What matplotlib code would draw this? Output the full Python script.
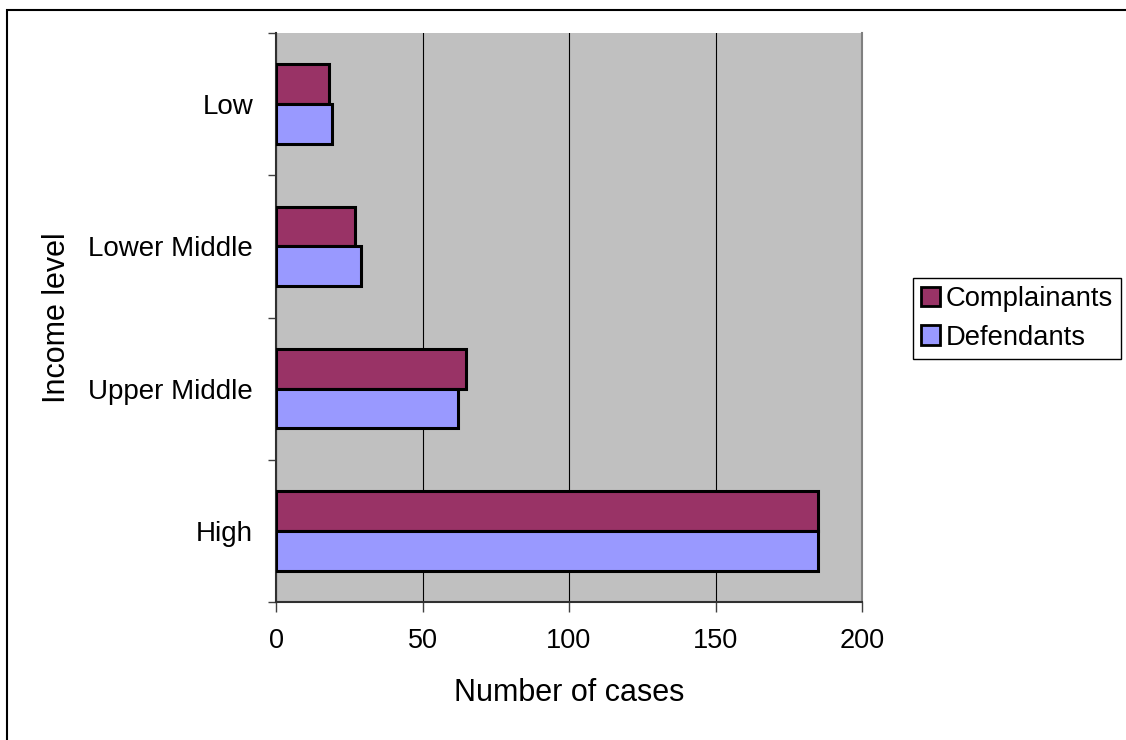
import numpy as np
import matplotlib.pyplot as plt
from matplotlib.patches import Rectangle

plt.rcParams['font.family'] = ['Liberation Sans', 'DejaVu Sans']

# cases per income level, listed bottom to top
levels = ['High', 'Upper Middle', 'Lower Middle', 'Low']
complainants = [185, 65, 27, 18]
defendants = [185, 62, 29, 19]

fig = plt.figure(figsize=(11.26, 7.4), dpi=100)
ax = fig.add_axes([276/1126, 1-602/740, 586/1126, 569/740])
ax.set_facecolor('#C0C0C0')

y = np.arange(len(levels))
h = 0.28
ax.barh(y + h/2, complainants, height=h, color='#993366', edgecolor='black',
        linewidth=2.2, label='Complainants', zorder=3)
ax.barh(y - h/2, defendants, height=h, color='#9999FF', edgecolor='black',
        linewidth=2.2, label='Defendants', zorder=3)

ax.set_xlim(0, 200)
ax.set_ylim(-0.5, len(levels) - 0.5)
ax.set_xticks([0, 50, 100, 150, 200])
ax.xaxis.grid(True, color='black', linewidth=0.8, zorder=1)

# ticks sit between categories, labels at the centres
ax.set_yticks(np.arange(-0.5, len(levels), 1.0))
ax.set_yticklabels([])
ax.set_yticks(y, minor=True)
ax.set_yticklabels(levels, minor=True)
ax.tick_params(axis='y', which='minor', length=0, pad=16.5, labelsize=20)
ax.tick_params(axis='y', which='major', length=6, width=1, color='#404040')
ax.tick_params(axis='x', length=7, width=1, color='#404040', pad=12, labelsize=19.5)

for s in ['left', 'bottom']:
    ax.spines[s].set_color('#303030')
    ax.spines[s].set_linewidth(1.5)
ax.spines['top'].set_visible(False)
ax.spines['right'].set_color('#808080')
ax.spines['right'].set_linewidth(1.5)

# axis titles placed in pixel terms of the figure
ax.set_xlabel('Number of cases', fontsize=22, va='center')
ax.xaxis.set_label_coords(569/1126, 1-693/740, transform=fig.transFigure)
ax.set_ylabel('Income level', fontsize=22, va='center')
ax.yaxis.set_label_coords(57/1126, 1-318/740, transform=fig.transFigure)

leg = ax.legend(loc='upper left', bbox_to_anchor=(913/1126, 1-278/740),
                bbox_transform=fig.transFigure, borderaxespad=0,
                fontsize=19.7, fancybox=False, framealpha=1, edgecolor='black',
                handlelength=0.7, handleheight=0.7, handletextpad=0.2,
                labelspacing=0.45, borderpad=0.3)
leg.get_frame().set_linewidth(1)
for p in leg.get_patches():
    p.set_linewidth(2)

# outer chart frame
fig.add_artist(Rectangle((7/1126, -0.5), 2, 0.5 + 1 - 10/740,
                         transform=fig.transFigure, fill=False,
                         edgecolor='black', linewidth=1.5))

fig.savefig('out.png', dpi=100)
